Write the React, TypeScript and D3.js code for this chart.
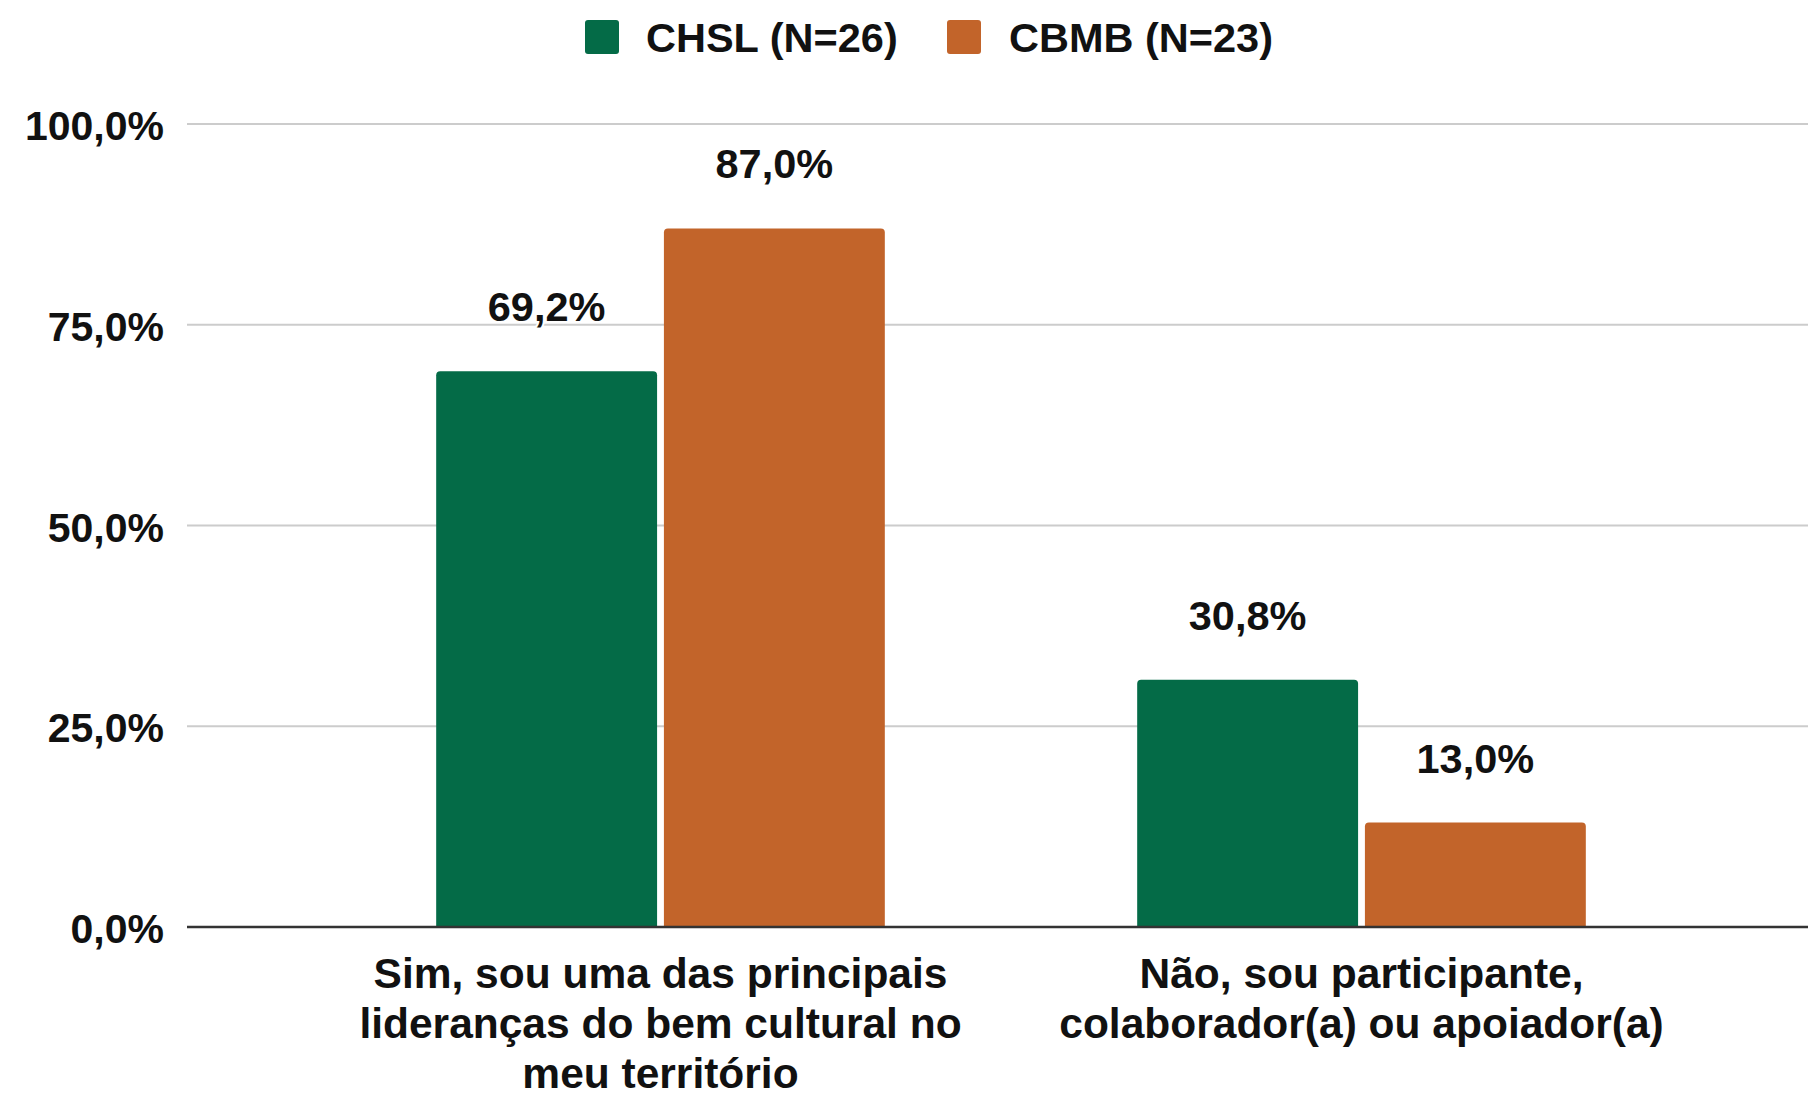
import React from "react";
import * as d3 from "d3";

const categories = [
  ["Sim, sou uma das principais", "lideranças do bem cultural no", "meu território"],
  ["Não, sou participante,", "colaborador(a) ou apoiador(a)"],
];
const seriesNames = ["CHSL (N=26)", "CBMB (N=23)"];
const seriesColors = ["#046B47", "#C2642A"];
const chslValues = [0.692, 0.308];
const cbmbValues = [0.87, 0.13];
const yTicks = [0, 0.25, 0.5, 0.75, 1];

const W = 1808;
const H = 1093;
const FONT = "'Liberation Sans', Arial, sans-serif";

function topRounded(x: number, y: number, w: number, h: number, r: number) {
  const rr = Math.min(r, h / 2, w / 2);
  return `M${x},${y + h} L${x},${y + rr} Q${x},${y} ${x + rr},${y} L${x + w - rr},${y} Q${x + w},${y} ${x + w},${y + rr} L${x + w},${y + h} Z`;
}

export default function App() {
  const catIdx = categories.map((_, i) => String(i));
  const y = d3.scaleLinear().domain([0, 1]).range([927, 124]);
  const x0 = d3.scaleBand<string>().domain(catIdx).range([310, 1712]).paddingInner(0.36).paddingOuter(0.18);
  const x1 = d3.scaleBand<string>().domain(seriesNames).range([0, x0.bandwidth()]).paddingInner(0.03);
  const fmt = (v: number) => (v * 100).toFixed(1).replace(".", ",") + "%";
  const seriesValues = [chslValues, cbmbValues];

  return (
    <div style={{ position: "absolute", left: 0, top: 0 }}>
      <svg width={W} height={H} style={{ display: "block", background: "#fff" }}>
        {yTicks.filter((t) => t > 0).map((t) => (
          <line key={t} x1={187} x2={W} y1={y(t)} y2={y(t)} stroke="#cccccc" strokeWidth={2} />
        ))}
        {yTicks.map((t) => (
          <text key={"l" + t} x={164} y={y(t) + 16} textAnchor="end" fontFamily={FONT} fontWeight="bold" fontSize={41} fill="#111">
            {fmt(t)}
          </text>
        ))}
        {catIdx.map((c, ci) =>
          seriesNames.map((s, si) => {
            const v = seriesValues[si][ci];
            const bx = (x0(c) as number) + (x1(s) as number);
            const by = y(v);
            return (
              <path key={c + s} d={topRounded(bx, by, x1.bandwidth(), y(0) - by, 4)} fill={seriesColors[si]} />
            );
          })
        )}
        <line x1={187} x2={W} y1={y(0)} y2={y(0)} stroke="#333" strokeWidth={2.5} />
        {catIdx.map((c, ci) =>
          seriesNames.map((s, si) => {
            const v = seriesValues[si][ci];
            const cx = (x0(c) as number) + (x1(s) as number) + x1.bandwidth() / 2;
            return (
              <text key={"d" + c + s} x={cx} y={y(v) - 50} textAnchor="middle" fontFamily={FONT} fontWeight="bold" fontSize={41.5}
                fill="#111" stroke="#fff" strokeWidth={4} style={{ paintOrder: "stroke" }}>
                {fmt(v)}
              </text>
            );
          })
        )}
        {categories.map((lines, ci) => {
          const cx = (x0(String(ci)) as number) + x0.bandwidth() / 2;
          return (
            <text key={"c" + ci} textAnchor="middle" fontFamily={FONT} fontWeight="bold" fontSize={42.5} fill="#111">
              {lines.map((ln, li) => (
                <tspan key={li} x={cx} y={988 + li * 50}>{ln}</tspan>
              ))}
            </text>
          );
        })}
        {[{ sx: 585, tx: 646 }, { sx: 947, tx: 1009 }].map((p, i) => (
          <g key={"lg" + i}>
            <rect x={p.sx} y={20} width={34} height={34} rx={3} fill={seriesColors[i]} />
            <text x={p.tx} y={52} fontFamily={FONT} fontWeight="bold" fontSize={41.5} fill="#111">{seriesNames[i]}</text>
          </g>
        ))}
      </svg>
    </div>
  );
}
